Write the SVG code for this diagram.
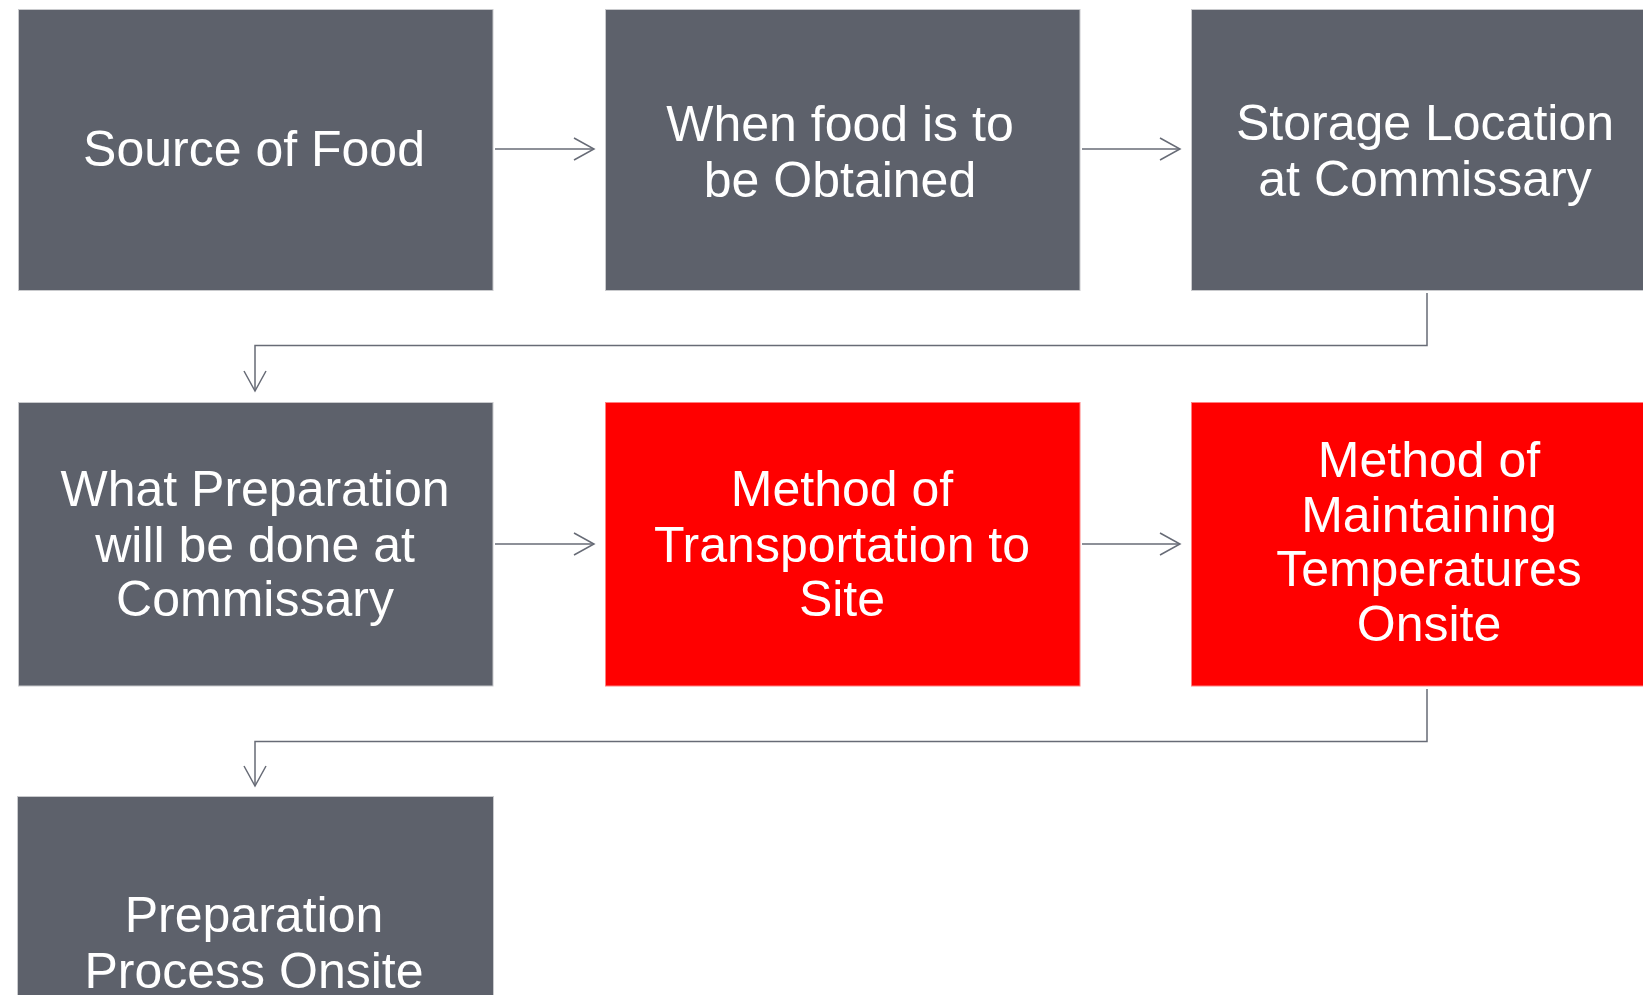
<svg xmlns="http://www.w3.org/2000/svg" width="1643" height="995" viewBox="0 0 1643 995">
<style>
.g{fill:#5d616b;stroke:#c9cacd;stroke-width:1}
.r{fill:#ff0000;stroke:#ff8080;stroke-width:1}
.t{font-family:"Liberation Sans",Arial,sans-serif;font-size:50px;fill:#ffffff;text-anchor:middle}
.c{fill:none;stroke:#676b76;stroke-width:1.5}
</style>
<defs>
<marker id="ah" markerUnits="userSpaceOnUse" markerWidth="24" markerHeight="26" refX="21" refY="12" orient="auto" viewBox="0 0 24 24">
<path d="M1,1 L21,12 L1,23" fill="none" stroke="#676b76" stroke-width="1.5"/>
</marker>
</defs>
<rect width="1643" height="995" fill="#ffffff"/>
<g id="connectors">
<line class="c" x1="495" y1="149" x2="594" y2="149" marker-end="url(#ah)"/>
<line class="c" x1="1082" y1="149" x2="1180" y2="149" marker-end="url(#ah)"/>
<polyline class="c" points="1427,293 1427,345.5 255,345.5 255,391" marker-end="url(#ah)"/>
<line class="c" x1="495" y1="544" x2="594" y2="544" marker-end="url(#ah)"/>
<line class="c" x1="1082" y1="544" x2="1180" y2="544" marker-end="url(#ah)"/>
<polyline class="c" points="1427,689 1427,741.5 255,741.5 255,786" marker-end="url(#ah)"/>
</g>
<g id="node1">
<rect class="g" x="18.5" y="9.5" width="474.5" height="281"/>
<text class="t" x="254" y="165.5">Source of Food</text>
</g>
<g id="node2">
<rect class="g" x="605.5" y="9.5" width="474.5" height="281"/>
<text class="t" x="840" y="141">When food is to</text>
<text class="t" x="840" y="196.5">be Obtained</text>
</g>
<g id="node3">
<rect class="g" x="1191.5" y="9.5" width="474.5" height="281"/>
<text class="t" x="1425" y="139.5">Storage Location</text>
<text class="t" x="1425" y="195.5">at Commissary</text>
</g>
<g id="node4">
<rect class="g" x="18.5" y="402.5" width="474.5" height="283.5"/>
<text class="t" x="255" y="506">What Preparation</text>
<text class="t" x="255" y="561.5">will be done at</text>
<text class="t" x="255" y="615.5">Commissary</text>
</g>
<g id="node5">
<rect class="r" x="605.5" y="402.5" width="474.5" height="283.5"/>
<text class="t" x="842" y="506">Method of</text>
<text class="t" x="842" y="561.5">Transportation to</text>
<text class="t" x="842" y="615.5">Site</text>
</g>
<g id="node6">
<rect class="r" x="1191.5" y="402.5" width="474.5" height="283.5"/>
<text class="t" x="1429" y="476.5">Method of</text>
<text class="t" x="1429" y="531.5">Maintaining</text>
<text class="t" x="1429" y="586">Temperatures</text>
<text class="t" x="1429" y="641">Onsite</text>
</g>
<g id="node7">
<rect class="g" x="17.5" y="796.5" width="476" height="283.5"/>
<text class="t" x="254" y="932">Preparation</text>
<text class="t" x="254" y="988">Process Onsite</text>
</g>
</svg>
